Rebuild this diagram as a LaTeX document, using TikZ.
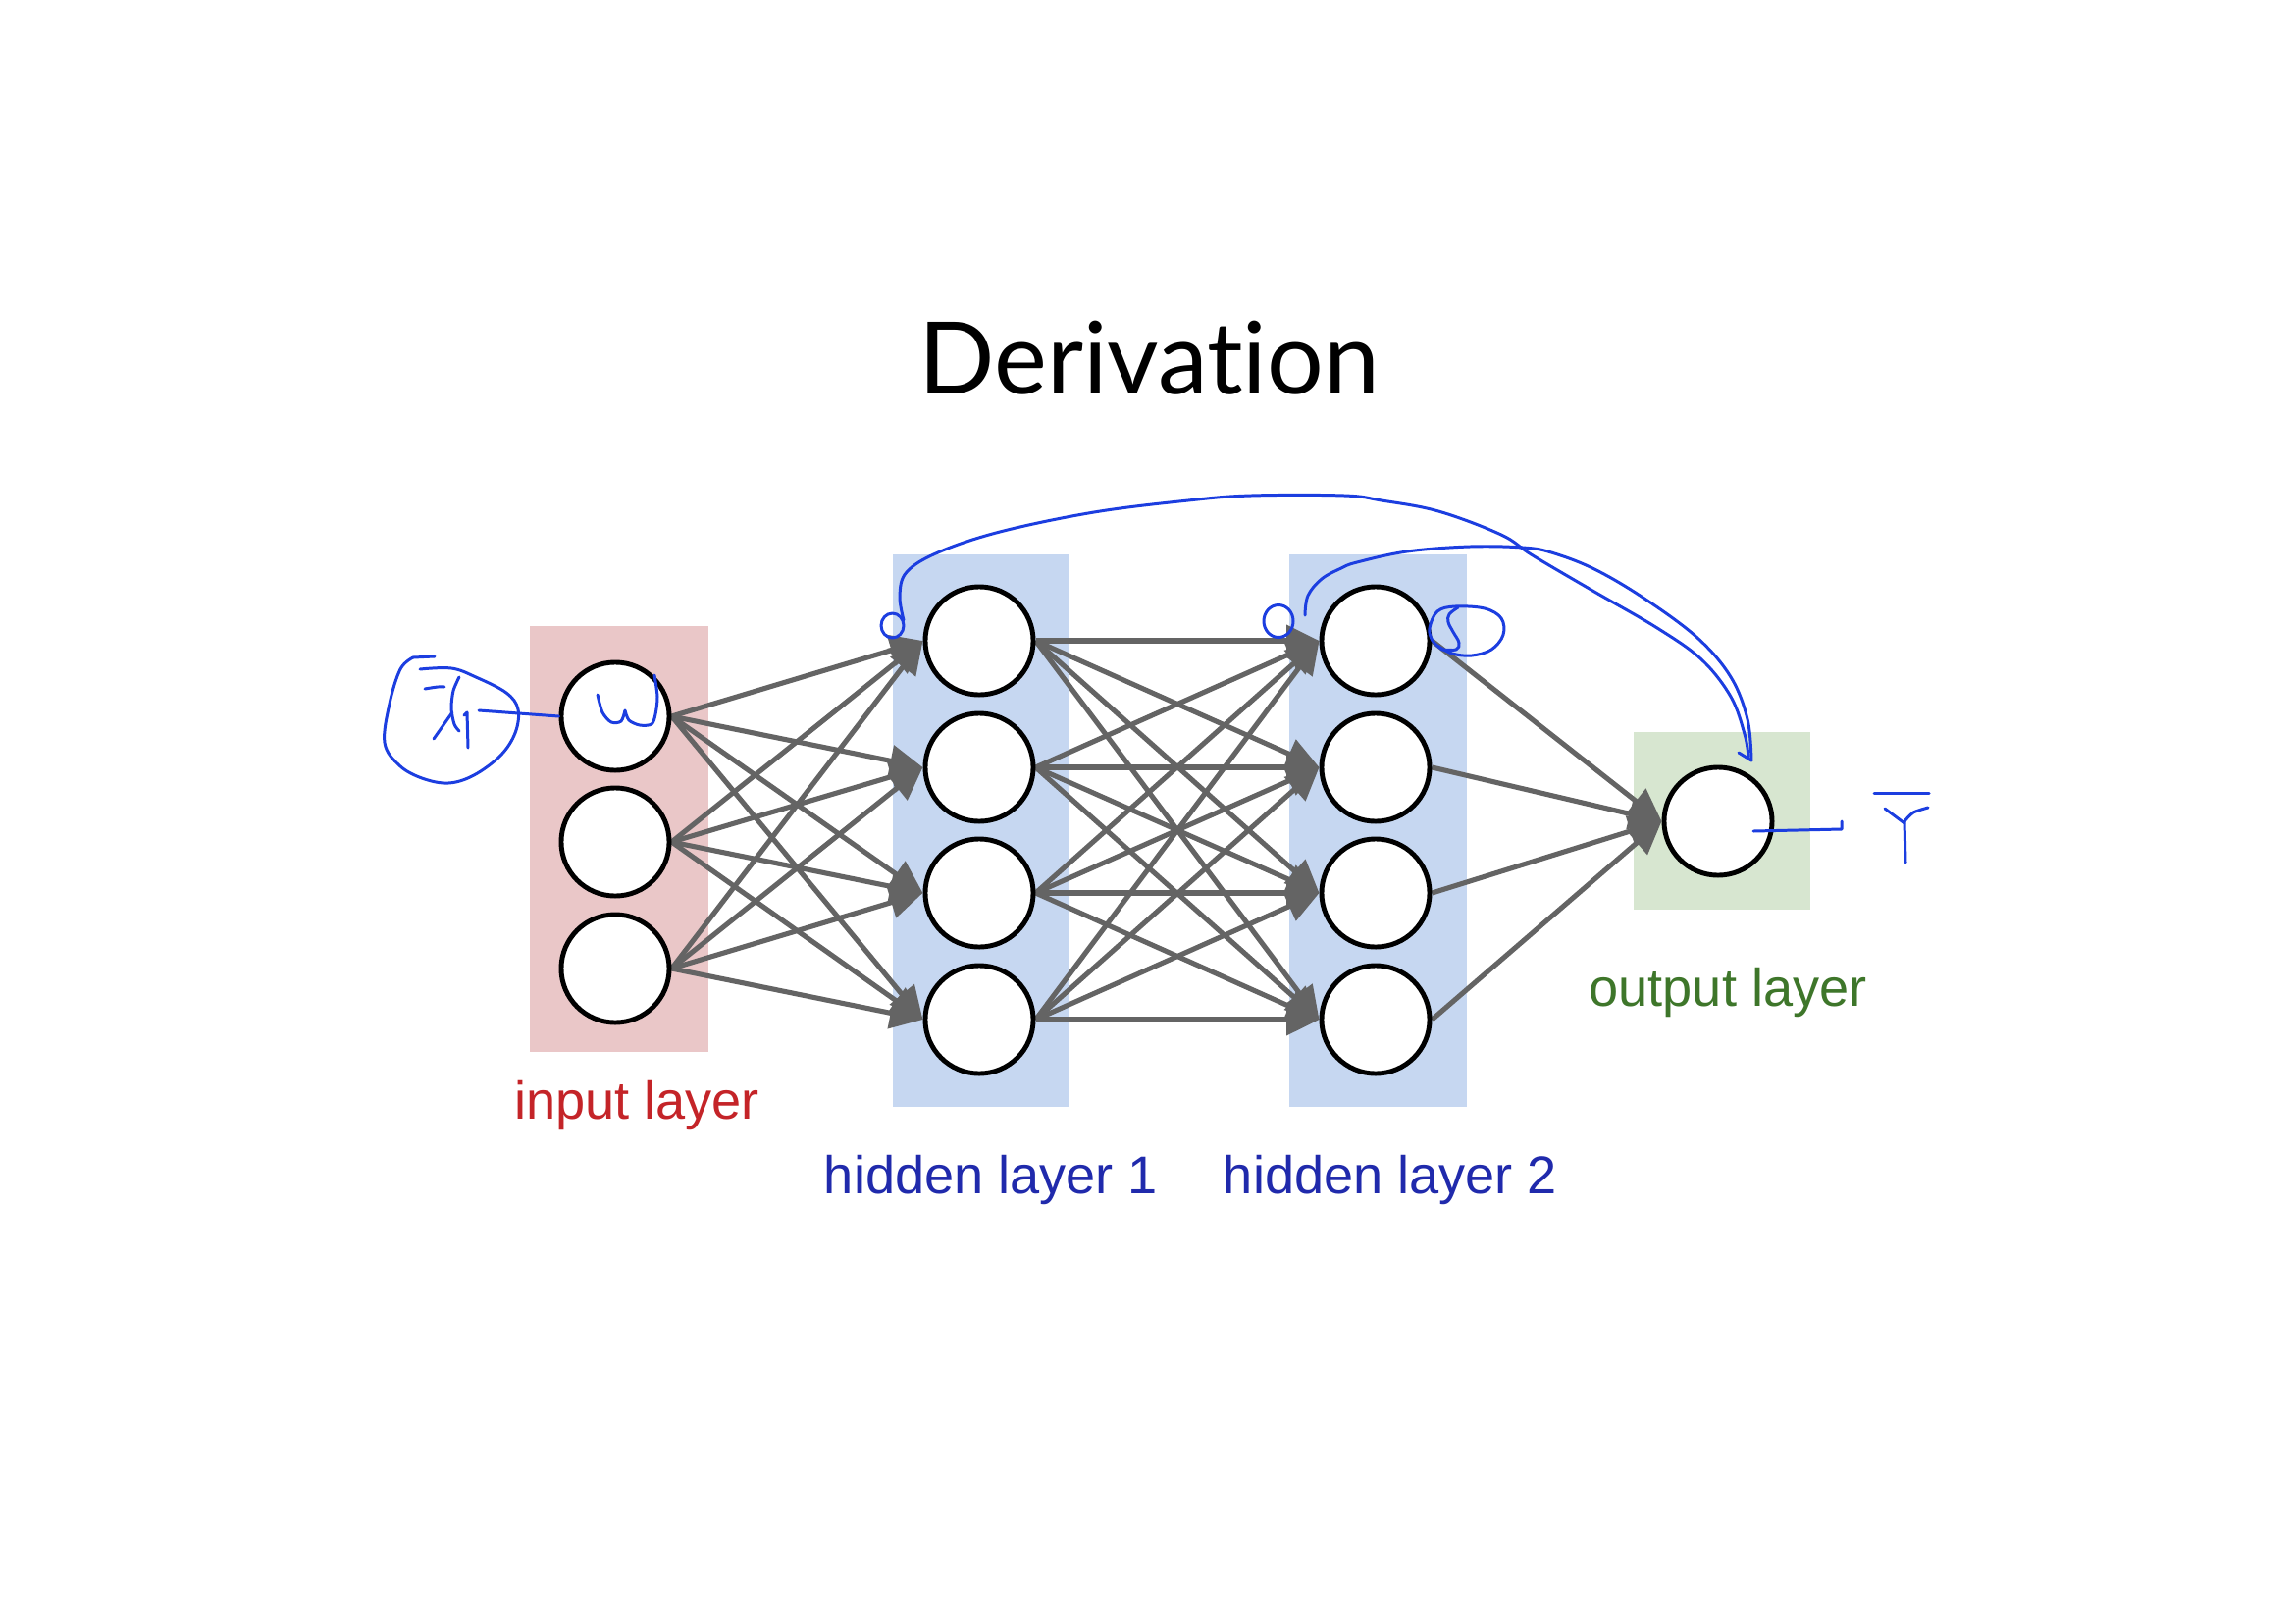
\documentclass[tikz,border=0pt]{standalone}
\usepackage{fontspec}
\setmainfont{Liberation Sans}
\newfontfamily\titlefont[Ligatures={NoCommon,NoRequired,NoContextual}]{Lato}
\usetikzlibrary{arrows.meta,backgrounds}
\definecolor{pinkbg}{RGB}{234,199,200}
\definecolor{bluebg}{RGB}{198,215,241}
\definecolor{greenbg}{RGB}{215,230,208}
\definecolor{edgegray}{RGB}{100,100,100}
\definecolor{inred}{RGB}{196,36,40}
\definecolor{hidblue}{RGB}{32,42,172}
\definecolor{outgreen}{RGB}{62,118,42}
\definecolor{pen}{RGB}{28,62,224}
\begin{document}
\begin{tikzpicture}[x=0.01cm,y=-0.01cm,
  neuron/.style={circle,draw=black,fill=white,line width=1.4pt,minimum size=1.1cm,inner sep=0pt},
  link/.style={draw=edgegray,line width=1.45pt,-{Triangle[length=9.5pt,width=9pt]}},
  lbl/.style={font=\fontsize{15.4}{18}\selectfont,anchor=base,inner sep=0pt},
  ink/.style={draw=pen,line width=0.85pt,line cap=round,line join=round}]
\useasboundingbox (0,0) rectangle (2339,1654);

% title
\node[font=\titlefont\fontsize{29}{34}\selectfont,anchor=base,inner sep=0pt] (title) at (1171,401) {Derivat\kern0pt ion};

% neurons
\node[neuron] (i1) at (627,730) {};
\node[neuron] (i2) at (627,858) {};
\node[neuron] (i3) at (627,987) {};
\node[neuron] (h1) at (998,653) {};
\node[neuron] (h2) at (998,782) {};
\node[neuron] (h3) at (998,910) {};
\node[neuron] (h4) at (998,1039) {};
\node[neuron] (g1) at (1402,653) {};
\node[neuron] (g2) at (1402,782) {};
\node[neuron] (g3) at (1402,910) {};
\node[neuron] (g4) at (1402,1039) {};
\node[neuron] (o1) at (1751,837) {};

\begin{scope}[on background layer]
  \fill[white] (0,0) rectangle (2339,1654);
  \fill[pinkbg] (540,638) rectangle (722,1072);
  \fill[bluebg] (910,565) rectangle (1090,1128);
  \fill[bluebg] (1314,565) rectangle (1495,1128);
  \fill[greenbg] (1665,746) rectangle (1845,927);
  \foreach \a in {1,2,3}
    \foreach \b in {1,2,3,4}
      \draw[link] (i\a.east) -- (h\b.west);
  \foreach \a in {1,2,3,4}
    \foreach \b in {1,2,3,4}
      \draw[link] (h\a.east) -- (g\b.west);
  \foreach \a in {1,2,3,4}
    \draw[link] (g\a.east) -- (o1.west);
\end{scope}

% labels
\node[lbl,text=inred] (lin) at (649,1140) {input layer};
\node[lbl,text=hidblue] (lh1) at (1010,1216) {hidden layer 1};
\node[lbl,text=hidblue] (lh2) at (1417,1216) {hidden layer 2};
\node[lbl,text=outgreen] (lout) at (1761,1025) {output layer};

% handwritten annotations
% loop around x1
\draw[ink] (443,669) -- (421,670);
\draw[ink] plot[smooth,tension=0.6] coordinates {(421,670) (408,682) (397,717) (392,757) (407,780) (430,793) (457,798) (483,790) (510,770) (525,747) (528,723) (516,706) (485,690) (460,681) (428,682)};
% x_1
\draw[ink] plot[smooth,tension=0.5] coordinates {(433,702) (446,700) (453,700)};
\draw[ink] plot[smooth,tension=0.5] coordinates {(468,690) (462,704) (460,722) (463,738) (468,745)};
\draw[ink] (461,726) -- (442,753);
\draw[ink] (473,729) -- (476,726) -- (477,762);
% line from x1 to node
\coordinate (xdot) at (488,724);
\draw[ink] (xdot) -- (i1.west);
% omega in input node
\draw[ink] plot[smooth,tension=0.5] coordinates {(609,708) (614,726) (623,736) (633,735) (637,724)};
\draw[ink] plot[smooth,tension=0.5] coordinates {(637,724) (641,734) (652,739) (664,738) (668,728) (670,710) (667,688)};
% small o's
\draw[ink] (909.5,637.5) ellipse [x radius=11.5, y radius=12.5];
\draw[ink] (1303,633) ellipse [x radius=15, y radius=16.5];
% sigma-like loop right of hidden2 node
\draw[ink] plot[smooth,tension=0.6] coordinates {(1470,662) (1460,653) (1457,640) (1465,623) (1483,618) (1513,620) (1530,630) (1532,647) (1520,662) (1500,668) (1480,666) (1465,658)};
\draw[ink] plot[smooth,tension=0.6] coordinates {(1486,619) (1477,626) (1476,634) (1481,644) (1487,655) (1484,662) (1470,662)};
% big arcs
\draw[ink] plot[smooth,tension=0.6] coordinates {(921,632) (917,607) (924,583) (956,563) (1019,542) (1115,522) (1211,510) (1275,505) (1370,505) (1408,510) (1466,521) (1530,545) (1562,566) (1625,603) (1689,640) (1734,672) (1764,710) (1778,748) (1782,771)};
\draw[ink] plot[smooth,tension=0.6] coordinates {(1330,627) (1333,607) (1347,590) (1367,579) (1383,573) (1434,562) (1498,557) (1552,558) (1581,563) (1625,580) (1676,610) (1730,650) (1764,690) (1781,733) (1785,775)};
\draw[ink] (1772,767) -- (1785,775);
% target annotation near output
\coordinate (ydot) at (1787,847);
\draw[ink] (ydot) -- (1877,845) -- (1877,837);
\draw[ink] (1910,808) -- (1966,808);
\draw[ink] (1921,824) -- (1941,839);
\draw[ink] plot[smooth,tension=0.5] coordinates {(1965,823) (1950,828) (1941,837)};
\draw[ink] (1941,837) -- (1942,879);
\end{tikzpicture}
\end{document}
